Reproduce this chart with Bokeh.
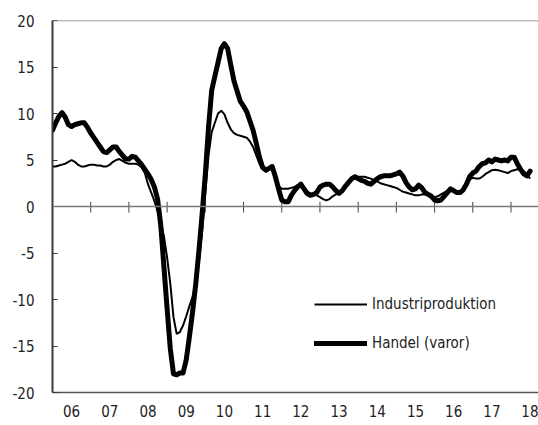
from bokeh.plotting import figure
from bokeh.models import Span, FixedTicker, Legend, LegendItem
from bokeh.embed import file_html
from bokeh.resources import INLINE

start_year = 2006
industri = [4.3, 4.3, 4.4, 4.5, 4.6, 4.8, 5.0, 4.8, 4.5, 4.3, 4.3, 4.4,
            4.5, 4.5, 4.4, 4.4, 4.3, 4.3, 4.5, 4.8, 5.0, 5.1, 4.9, 4.7,
            4.6, 4.6, 4.6, 4.5, 4.2, 3.6, 2.4, 1.5, 0.6, -0.5, -1.7, -3.2,
            -5.5, -8.3, -11.9, -13.7, -13.5, -12.8, -11.8, -10.7, -9.7, -8.2, -5.9, -2.7,
            1.5, 5.5, 8.0, 9.0, 10.0, 10.3, 9.9, 9.0, 8.3, 7.9, 7.7, 7.6,
            7.5, 7.4, 7.0, 6.4, 5.5, 4.6, 4.0, 3.9, 4.0, 4.2, 3.3, 2.2,
            1.9, 1.9, 1.9, 2.0, 2.1, 2.3, 2.4, 2.0, 1.6, 1.4, 1.3, 1.2,
            1.0, 0.8, 0.65, 0.8, 1.1, 1.3, 1.5, 1.8, 2.2, 2.6, 3.0, 3.15,
            3.2, 3.2, 3.2, 3.1, 3.0, 2.8, 2.7, 2.5, 2.4, 2.3, 2.2, 2.1,
            2.0, 1.8, 1.6, 1.5, 1.4, 1.3, 1.2, 1.2, 1.3, 1.3, 1.2, 1.0,
            1.0, 1.1, 1.3, 1.5, 1.7, 1.7, 1.6, 1.5, 1.5, 1.8, 2.3, 2.9,
            3.1, 3.0, 3.0, 3.2, 3.5, 3.7, 3.9, 3.95, 3.9, 3.8, 3.7, 3.6,
            3.8, 3.9, 4.0, 3.95, 3.8, 3.5, 3.0]
handel = [8.2, 9.0, 9.7, 10.1, 9.6, 8.8, 8.6, 8.8, 8.9, 9.0, 9.0, 8.5,
          7.9, 7.4, 6.9, 6.4, 5.9, 5.8, 6.1, 6.4, 6.4, 5.9, 5.5, 5.1,
          5.1, 5.4, 5.3, 4.9, 4.5, 4.0, 3.5, 2.9, 2.1, 0.8, -2.0, -6.5,
          -11.0, -15.3, -18.0, -18.1, -17.9, -17.9, -16.5, -14.0, -11.3, -8.3, -4.7, -0.8,
          3.5, 8.5, 12.5, 14.0, 15.5, 17.0, 17.5, 17.0, 15.2, 13.5, 12.4, 11.3,
          10.8, 10.2, 9.2, 8.2, 6.8, 5.3, 4.2, 3.9, 4.1, 4.3, 3.2, 1.9,
          0.7, 0.5, 0.5, 1.2, 1.7, 2.1, 2.4, 1.9, 1.4, 1.2, 1.3, 1.5,
          2.1, 2.3, 2.4, 2.4, 2.1, 1.7, 1.4, 1.7, 2.2, 2.6, 3.0, 3.2,
          3.0, 2.8, 2.7, 2.5, 2.4, 2.7, 3.0, 3.2, 3.3, 3.3, 3.3, 3.4,
          3.5, 3.7, 3.3, 2.6, 2.1, 1.8, 1.9, 2.3, 2.0, 1.5, 1.3, 1.1,
          0.7, 0.6, 0.7, 1.1, 1.5, 1.9, 1.7, 1.5, 1.5, 1.8, 2.4, 3.2,
          3.6, 3.8, 4.3, 4.6, 4.7, 5.0, 4.8, 5.1, 5.0, 4.9, 5.0, 4.9,
          5.3, 5.3, 4.6, 4.0, 3.5, 3.3, 3.8]
years = list(range(2006, 2019))
year_labels = ["06", "07", "08", "09", "10", "11", "12", "13", "14", "15", "16", "17", "18"]
y_ticks = [-20, -15, -10, -5, 0, 5, 10, 15, 20]
y_tick_labels = ["-20", "-15", "-10", "-5", "0", "5", "10", "15", "20"]
legend_labels = ["Industriproduktion", "Handel (varor)"]

FONT = "DejaVu Sans Condensed"
AXC = "#7a7a7a"
DARK = "#3a3a3a"

x_ind = [start_year + i / 12 for i in range(len(industri))]
x_han = [start_year + i / 12 for i in range(len(handel))]

p = figure(width=538, height=425, output_backend="svg", toolbar_location=None,
           x_range=(2006, 2018.72), y_range=(-20, 20),
           min_border_left=52, min_border_right=0, min_border_top=20, min_border_bottom=33)
p.outline_line_color = None
p.grid.grid_line_color = None
p.background_fill_color = "white"
p.border_fill_color = "white"

ya = p.yaxis[0]
ya.ticker = FixedTicker(ticks=y_ticks)
ya.major_label_overrides = {t: lab for t, lab in zip(y_ticks, y_tick_labels)}
ya.minor_tick_line_color = None
ya.major_tick_in = 5
ya.major_tick_out = 0
ya.major_label_standoff = 18
ya.axis_line_color = DARK
ya.axis_line_width = 2
ya.major_tick_line_color = DARK
ya.major_label_text_font = FONT
ya.major_label_text_font_size = "15px"
ya.major_label_text_color = "#222222"

xa = p.xaxis[0]
xa.ticker = FixedTicker(ticks=[y + 0.5 for y in years])
xa.major_label_overrides = {y + 0.5: lab for y, lab in zip(years, year_labels)}
xa.minor_tick_line_color = None
xa.major_tick_in = 0
xa.major_tick_out = 0
xa.major_label_standoff = 12
xa.axis_line_color = "#555555"
xa.axis_line_width = 1.5
xa.major_label_text_font = FONT
xa.major_label_text_font_size = "15px"
xa.major_label_text_color = "#222222"

p.add_layout(Span(location=20, dimension="width", line_color=AXC, line_width=1.5))
p.add_layout(Span(location=0, dimension="width", line_color=AXC, line_width=1.5))

tick_years = years[1:]
p.segment(x0=tick_years, y0=[0.5] * len(tick_years), x1=tick_years,
          y1=[-0.65] * len(tick_years), line_color="#444444", line_width=1)

r1 = p.line(x_ind, industri, line_color="black", line_width=2)
r2 = p.line(x_han, handel, line_color="black", line_width=5,
            line_join="round", line_cap="round")

legend = Legend(items=[LegendItem(label=legend_labels[0], renderers=[r1]),
                       LegendItem(label=legend_labels[1], renderers=[r2])],
                location=(262, 39), orientation="vertical",
                glyph_width=53, glyph_height=20, label_height=20,
                spacing=19, padding=0, margin=0, label_standoff=5,
                border_line_color=None, background_fill_alpha=0,
                label_text_font=FONT, label_text_font_size="15px",
                label_text_color="#222222")
p.add_layout(legend)

open("out.html", "w").write(file_html(p, INLINE))
